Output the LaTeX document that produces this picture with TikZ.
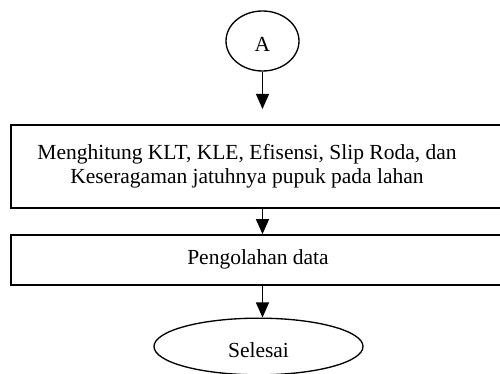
\documentclass[tikz,border=0pt]{standalone}
\usepackage{fontspec}
\setmainfont{Liberation Serif}
\usetikzlibrary{arrows.meta,shapes.geometric}

\tikzset{
	terminal/.style={draw, ellipse, line width=0.8pt, inner sep=0pt, text depth=0pt},
	process/.style={draw, rectangle, line width=1pt, inner sep=0pt},
	flowarrow/.style={-{Triangle[width=7.8pt, length=9pt]}, line width=0.7pt}
}

\begin{document}
\begin{tikzpicture}[x=0.6pt, y=-0.6pt]
	%\draw[help lines] (0,0) grid (500,374);
	\fontsize{12.9pt}{14.6pt}\selectfont
	\useasboundingbox (0,0) rectangle (500,374);
	\clip (0,0) rectangle (500,374);
	
	\node [terminal, minimum width=43.8pt, minimum height=36pt, text height=12.1pt] (A) at (262.5, 41) {A};
	\coordinate (a1) at (262.5, 109);
	\draw [flowarrow] (A.south) -- (a1);
	
	\node [process, minimum width=299.4pt, minimum height=49.8pt] (box1) at (260.5, 166.5) {};
	\node [align=center] (hitung) at (247, 166) {Menghitung KLT, KLE, Efisensi, Slip Roda, dan\\Keseragaman jatuhnya pupuk pada lahan};
	
	\node [process, minimum width=299.4pt, minimum height=30pt] (box2) at (260.5, 260) {};
	\node (olah) at (258, 259) {Pengolahan data};
	\draw [flowarrow] (box1.south -| 262.5, 0) -- (box2.north -| 262.5, 0);
	
	\node [terminal, minimum width=125.4pt, minimum height=34pt, text height=13.3pt] (selesai) at (258.5, 346.5) {Selesai};
	\draw [flowarrow] (box2.south -| 262.5, 0) -- (selesai.north -| 262.5, 0);
	
\end{tikzpicture}
\end{document}
